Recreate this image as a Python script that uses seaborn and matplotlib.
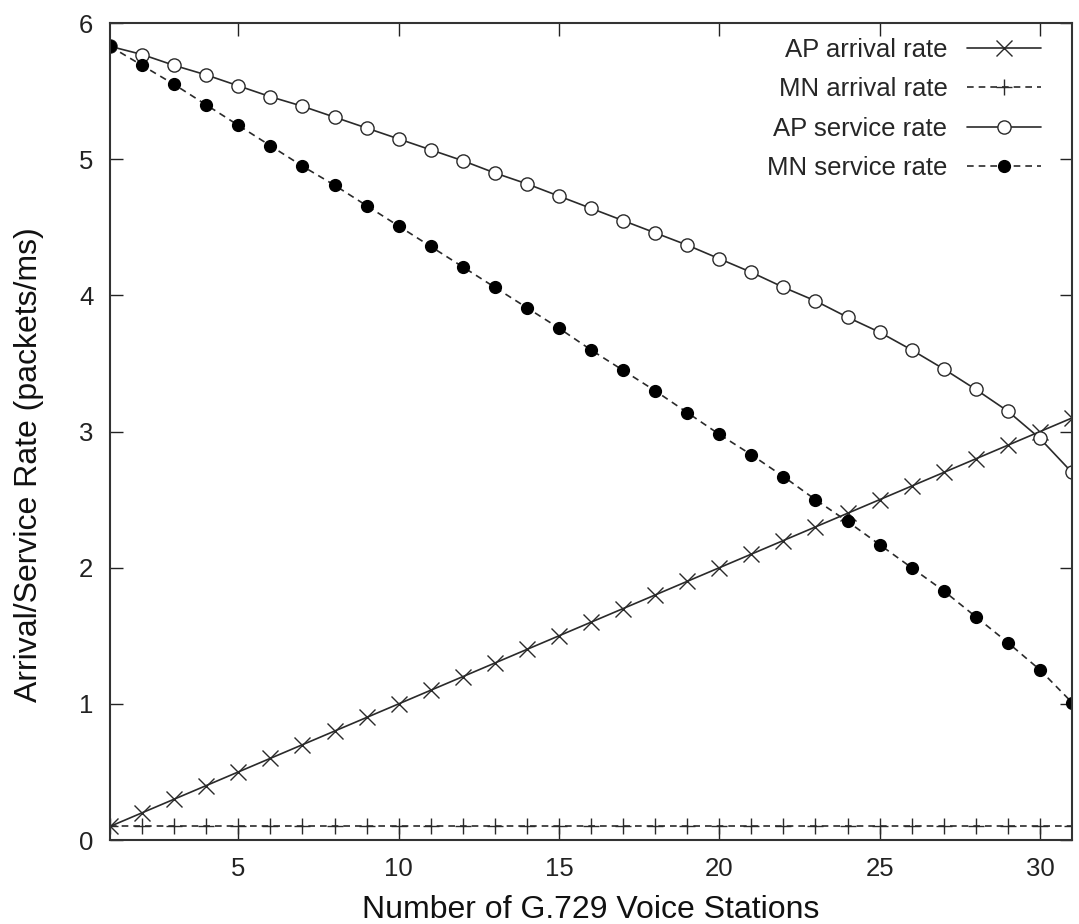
import matplotlib
matplotlib.use("Agg")
import matplotlib.pyplot as plt
import seaborn as sns
import numpy as np

stations = list(range(1, 32))
ap_arrival = [0.1, 0.2, 0.3, 0.4, 0.5, 0.6, 0.7, 0.8, 0.9, 1.0, 1.1, 1.2, 1.3, 1.4, 1.5, 1.6,
              1.7, 1.8, 1.9, 2.0, 2.1, 2.2, 2.3, 2.4, 2.5, 2.6, 2.7, 2.8, 2.9, 3.0, 3.1]
mn_arrival = [0.1] * 31
ap_service = [5.83, 5.77, 5.69, 5.62, 5.54, 5.46, 5.39, 5.31, 5.23, 5.15, 5.07, 4.99, 4.90, 4.82,
              4.73, 4.64, 4.55, 4.46, 4.37, 4.27, 4.17, 4.06, 3.96, 3.84, 3.73, 3.60, 3.46, 3.31,
              3.15, 2.95, 2.70]
mn_service = [5.83, 5.69, 5.55, 5.40, 5.25, 5.10, 4.95, 4.81, 4.66, 4.51, 4.36, 4.21, 4.06, 3.91,
              3.76, 3.60, 3.45, 3.30, 3.14, 2.98, 2.83, 2.67, 2.50, 2.34, 2.17, 2.00, 1.83, 1.64,
              1.45, 1.25, 1.01]
x_ticks = [5, 10, 15, 20, 25, 30]
y_ticks = [0, 1, 2, 3, 4, 5, 6]

sns.set_theme(style="ticks")
plt.rcParams['font.family'] = ['Liberation Sans', 'DejaVu Sans']

fig = plt.figure(figsize=(10.79, 9.24), dpi=100)
ax = fig.add_axes([0.102, 0.0909, 0.8915, 0.884])

col = '#2a2a2a'
lw = 1.2
sns.lineplot(x=stations, y=ap_arrival, ax=ax, color=col, lw=lw, marker='x', markersize=11,
             markeredgewidth=1.0, markeredgecolor=col, label='AP arrival rate')
sns.lineplot(x=stations, y=mn_arrival, ax=ax, color=col, lw=lw, linestyle=(0, (4, 3)), marker='+',
             markersize=12, markeredgewidth=1.0, markeredgecolor=col, label='MN arrival rate')
sns.lineplot(x=stations, y=ap_service, ax=ax, color=col, lw=lw, marker='o', markersize=9.5,
             markerfacecolor='white', markeredgewidth=1.0, markeredgecolor=col, label='AP service rate')
sns.lineplot(x=stations, y=mn_service, ax=ax, color=col, lw=lw, linestyle=(0, (4, 3)), marker='o',
             markersize=8.5, markerfacecolor='black', markeredgecolor='black', markeredgewidth=1.0,
             label='MN service rate')

ax.set_xlim(1, 31)
ax.set_ylim(0, 6)
ax.set_xticks(x_ticks)
ax.set_yticks(y_ticks)
ax.tick_params(direction='in', length=9, width=1.0, top=True, right=True, labelsize=18.5,
               colors='#222')
ax.tick_params(axis='x', pad=12)
ax.tick_params(axis='y', pad=12)
for s in ax.spines.values():
    s.set_linewidth(1.5)
    s.set_color('#333')
ax.set_xlabel('Number of G.729 Voice Stations', fontsize=23, labelpad=10, color='#111')
ax.set_ylabel('Arrival/Service Rate (packets/ms)', fontsize=23, color='#111')
ax.yaxis.set_label_coords(-0.069, 0.459)

leg = ax.legend(loc='upper right', bbox_to_anchor=(0.968, 0.982), frameon=False, markerfirst=False,
                fontsize=18.5, handlelength=2.9, labelspacing=0.6, borderaxespad=0.0,
                borderpad=0.0, handletextpad=0.75)

fig.savefig('out.png', dpi=100)
